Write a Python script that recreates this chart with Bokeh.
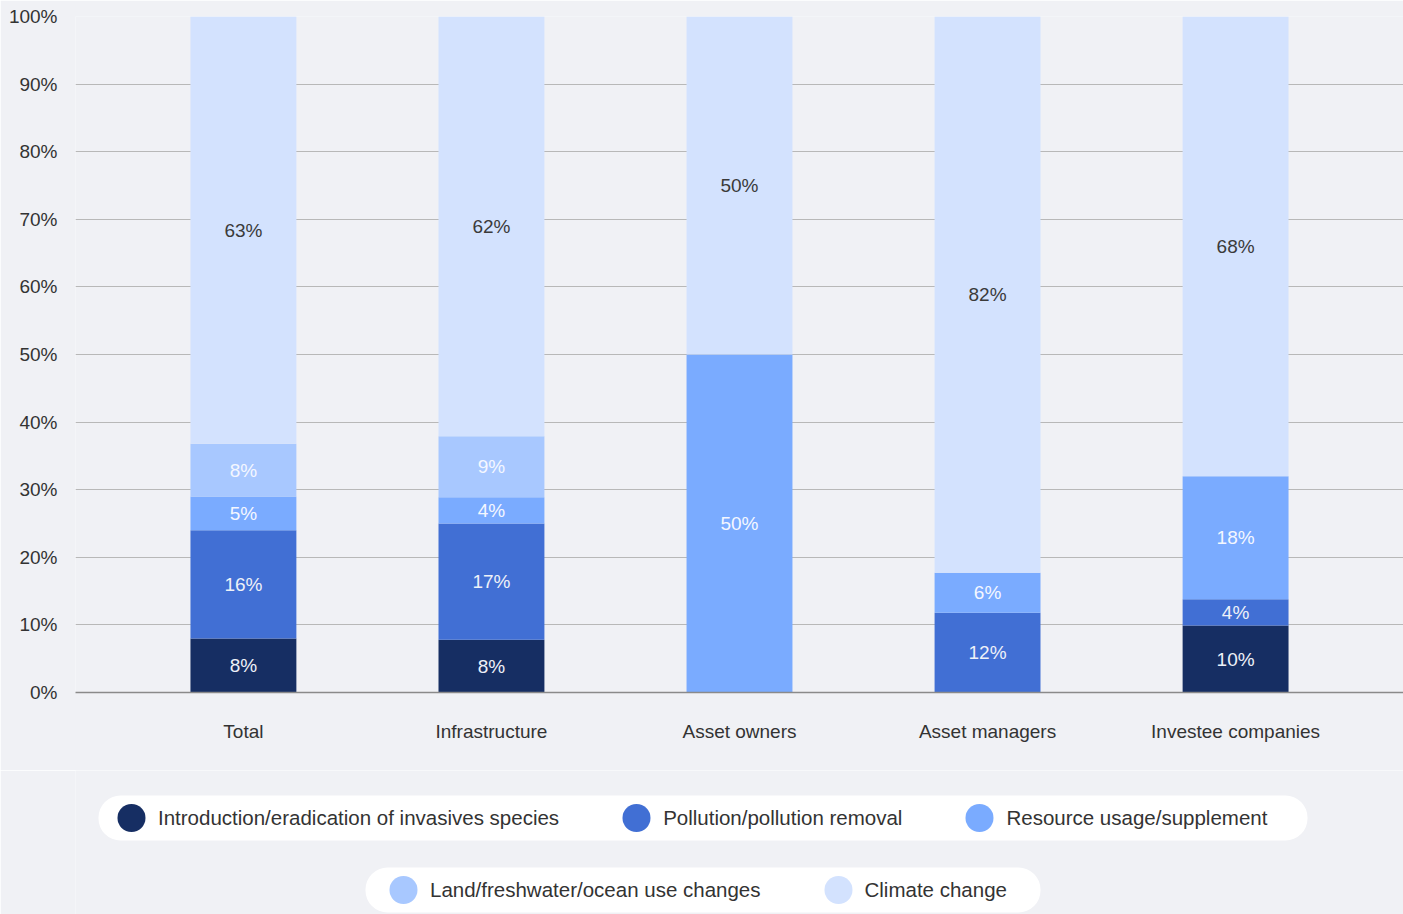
from bokeh.plotting import figure
from bokeh.layouts import column
from bokeh.models import (ColumnDataSource, FactorRange, Range1d, FixedTicker, Legend, LegendItem,
                          BoxAnnotation)
from bokeh.core.properties import value
from bokeh.embed import file_html
from bokeh.resources import INLINE

categories = ["Total", "Infrastructure", "Asset owners", "Asset managers", "Investee companies"]
series_names = ["Introduction/eradication of invasives species", "Pollution/pollution removal",
                "Resource usage/supplement", "Land/freshwater/ocean use changes", "Climate change"]
invasives = [8.0, 7.8, 0.0, 0.0, 9.9]
pollution = [16.0, 17.2, 0.0, 11.8, 3.9]
resource = [5.0, 3.9, 50.0, 5.9, 18.2]
land = [7.8, 9.0, 0.0, 0.0, 0.0]
climate = [63.2, 62.1, 50.0, 82.3, 68.0]
y_ticks = [0, 10, 20, 30, 40, 50, 60, 70, 80, 90, 100]

colors = ["#162e63", "#416fd4", "#7aabff", "#a8c8ff", "#d3e2fe"]
label_colors = ["#eef1f8", "#eef1f8", "#f4f7ff", "#f4f7ff", "#3a3a3a"]
FONT = "Liberation Sans"
BG = "#f0f1f5"

keys = ["invasives", "pollution", "resource", "land", "climate"]
series = [invasives, pollution, resource, land, climate]
src = ColumnDataSource(dict(cat=categories, **{k: v for k, v in zip(keys, series)}))

p = figure(x_range=FactorRange(factors=categories, range_padding=0.177, range_padding_units="absolute"),
           y_range=Range1d(0, 100), width=1403, height=770,
           output_backend="svg", toolbar_location=None,
           min_border_left=75, min_border_right=0, min_border_top=16, min_border_bottom=78)
p.background_fill_color = BG
p.border_fill_color = BG
p.outline_line_color = None

p.vbar_stack(keys, x="cat", width=0.427, color=colors, source=src, line_color=None)

# segment labels
lx, ly, lt, lc = [], [], [], []
for i, c in enumerate(categories):
    base = 0.0
    for s, col in zip(series, label_colors):
        v = s[i]
        if v > 0:
            lx.append(c); ly.append(base + v / 2); lt.append(f"{round(v)}%"); lc.append(col)
        base += v
lsrc = ColumnDataSource(dict(x=lx, y=ly, text=lt, color=lc))
p.text(x="x", y="y", text="text", text_color="color", source=lsrc, text_align="center",
       text_baseline="middle", text_font=value(FONT), text_font_size="19px")

# axes
p.yaxis.ticker = FixedTicker(ticks=y_ticks)
p.yaxis.major_label_overrides = {t: f"{t}%" for t in y_ticks}
p.yaxis.axis_line_color = None
p.yaxis.major_tick_line_color = None
p.yaxis.minor_tick_line_color = None
p.yaxis.major_tick_out = 0
p.yaxis.major_label_standoff = 18
p.yaxis.major_label_text_font = FONT
p.yaxis.major_label_text_font_size = "19px"
p.yaxis.major_label_text_color = "#333333"

p.xaxis.axis_line_color = "#8a8a8a"
p.xaxis.axis_line_width = 1.5
p.xaxis.major_tick_line_color = None
p.xaxis.major_tick_out = 0
p.xaxis.major_label_standoff = 28
p.xaxis.major_label_text_font = FONT
p.xaxis.major_label_text_font_size = "19px"
p.xaxis.major_label_text_color = "#333333"

p.xgrid.grid_line_color = None
p.ygrid.grid_line_color = "#b8b8b8"
p.ygrid.grid_line_width = 1

# legend figure: its frame spans canvas x 75..1403, so the x range is in canvas pixels
lf = figure(width=1403, height=144, x_range=Range1d(75, 1403), y_range=Range1d(0, 144),
            x_axis_type=None, y_axis_type=None, output_backend="svg", toolbar_location=None,
            min_border=0)
lf.background_fill_color = BG
lf.border_fill_color = BG
lf.outline_line_color = None
lf.xgrid.visible = False
lf.ygrid.visible = False

# white pill backgrounds behind the two legend rows
for (l, r, b, t) in [(98, 1307, 74, 119), (365, 1040, 2, 47)]:
    box = BoxAnnotation(left=l, right=r, bottom=b, top=t, fill_color="white", fill_alpha=1.0,
                        line_color=None, level="underlay")
    if "border_radius" in BoxAnnotation.properties():
        box.border_radius = 22
    lf.add_layout(box)

dummies = []
for name, col in zip(series_names, colors):
    r = lf.ellipse(x=[-500], y=[-500], width=28, height=28, width_units="screen",
                   height_units="screen", fill_color=col, line_color=None)
    dummies.append(LegendItem(label=name, renderers=[r]))

def make_legend(items, loc):
    return Legend(items=items, orientation="horizontal", location=loc, margin=0,
                  padding=0, spacing=50, label_standoff=0, glyph_width=54, glyph_height=35,
                  label_height=45,
                  label_text_font=FONT, label_text_font_size="20.5px", label_text_color="#333333",
                  background_fill_alpha=0.0, border_line_color=None)

leg1 = make_legend(dummies[:3], (29, 74))
leg2 = make_legend(dummies[3:], (301, 2))
lf.add_layout(leg1, "center")
lf.add_layout(leg2, "center")

layout = column(p, lf, spacing=0)
open("out.html", "w").write(file_html(layout, INLINE))
